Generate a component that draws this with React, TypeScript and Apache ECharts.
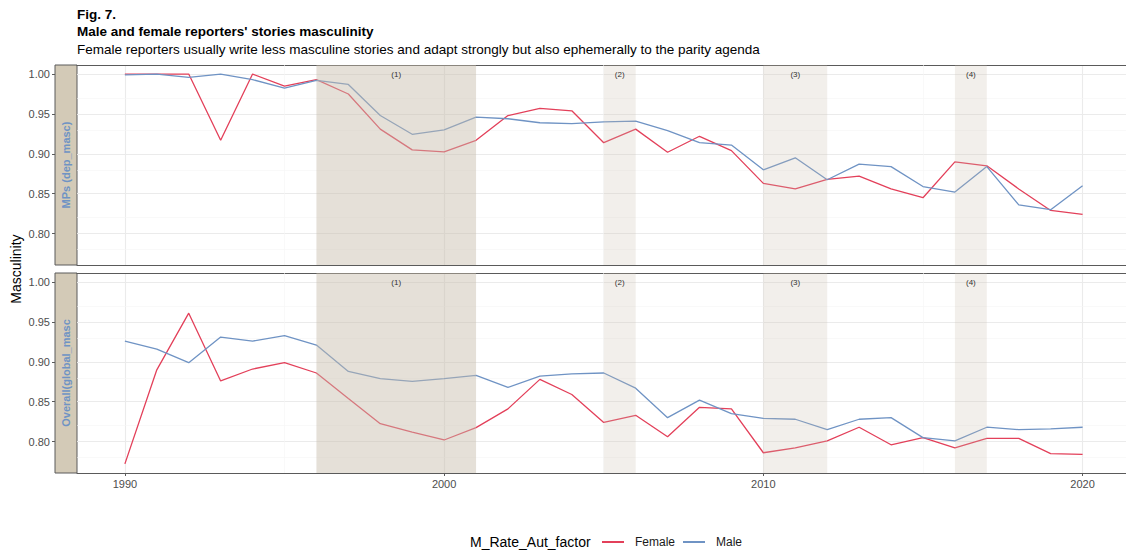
import React, { useEffect, useRef } from "react";
import * as echarts from "echarts";

const YEARS = [
  1990, 1991, 1992, 1993, 1994, 1995, 1996, 1997, 1998, 1999, 2000, 2001, 2002, 2003, 2004, 2005,
  2006, 2007, 2008, 2009, 2010, 2011, 2012, 2013, 2014, 2015, 2016, 2017, 2018, 2019, 2020,
];

const MPS_FEMALE = [
  1.0, 1.0, 1.0, 0.917, 1.0, 0.985, 0.993, 0.975, 0.931, 0.905, 0.9025, 0.917, 0.948, 0.957,
  0.954, 0.914, 0.931, 0.902, 0.922, 0.904, 0.863, 0.856, 0.868, 0.872, 0.856, 0.845, 0.89, 0.885,
  0.856, 0.829, 0.824,
];
const MPS_MALE = [
  0.999, 1.0, 0.996, 1.0, 0.993, 0.9825, 0.992, 0.987, 0.948, 0.9245, 0.93, 0.946, 0.944, 0.939,
  0.938, 0.94, 0.941, 0.929, 0.914, 0.911, 0.88, 0.895, 0.8675, 0.887, 0.884, 0.859, 0.852, 0.884,
  0.836, 0.83, 0.86,
];
const OVERALL_FEMALE = [
  0.772, 0.89, 0.961, 0.876, 0.891, 0.899, 0.886, 0.854, 0.8225, 0.812, 0.802, 0.8175, 0.841, 0.878,
  0.859, 0.824, 0.833, 0.806, 0.843, 0.841, 0.786, 0.792, 0.801, 0.818, 0.796, 0.805, 0.792, 0.804,
  0.804, 0.785, 0.784,
];
const OVERALL_MALE = [
  0.926, 0.916, 0.899, 0.931, 0.926, 0.933, 0.921, 0.888, 0.879, 0.8755, 0.879, 0.883, 0.868, 0.882,
  0.885, 0.886, 0.867, 0.83, 0.852, 0.835, 0.829, 0.828, 0.815, 0.828, 0.83, 0.805, 0.801, 0.818,
  0.815, 0.816, 0.818,
];

const Y_TICKS = [0.8, 0.85, 0.9, 0.95, 1.0];
const Y_MINOR = [0.775, 0.825, 0.875, 0.925, 0.975];
const X_TICKS = [1990, 2000, 2010, 2020];
const X_MINOR = [1995, 2005, 2015];

const PERIOD_LABELS = ["(1)", "(2)", "(3)", "(4)"];
const PERIOD_START = [1996, 2005, 2010, 2016];
const PERIOD_END = [2001, 2006, 2012, 2017];

const STRIP_LABELS = ["MPs (dep_masc)", "Overall(global_masc"];

const Y_MIN = 0.7606;
const Y_MAX = 1.0114;
// the panel runs past the right edge of the picture; this is the visible part
const X_MIN = 1988.5;
const X_MAX = 2021.36;

const FONT = "'Liberation Sans', Arial, Helvetica, sans-serif";
const RED = "#e3405a";
const BLUE = "#6f93c4";
const FRAME = "#5a5a5a";

export default function App() {
  const ref = useRef<HTMLDivElement>(null);

  useEffect(() => {
    if (!ref.current) return;
    const chart = echarts.init(ref.current, null, { renderer: "svg" });

    const panels = [
      { female: MPS_FEMALE, male: MPS_MALE, top: 65 },
      { female: OVERALL_FEMALE, male: OVERALL_MALE, top: 273 },
    ];
    const PANEL_H = 200;

    const grid: any[] = [];
    const xAxis: any[] = [];
    const yAxis: any[] = [];
    const series: any[] = [];

    panels.forEach((p) => {
      grid.push({
        left: 77,
        top: p.top,
        width: 1049,
        height: PANEL_H,
        show: true,
        backgroundColor: "#ffffff",
        borderWidth: 0,
      });
    });
    panels.forEach((p) => {
      grid.push({
        left: 55,
        top: p.top,
        width: 22,
        height: PANEL_H,
        show: true,
        backgroundColor: "#d3cab7",
        borderColor: FRAME,
        borderWidth: 1,
      });
    });

    panels.forEach((p, i) => {
      const isBottom = i === panels.length - 1;
      xAxis.push({
        type: "value",
        gridIndex: i,
        position: "bottom",
        min: X_MIN,
        max: X_MAX,
        splitNumber: 3,
        axisLine: { show: true, onZero: false, lineStyle: { color: FRAME, width: 1 } },
        axisTick: {
          show: isBottom,
          customValues: X_TICKS,
          length: 3,
          lineStyle: { color: FRAME },
        },
        axisLabel: {
          show: isBottom,
          customValues: X_TICKS,
          formatter: (v: number) => (X_TICKS.some((t) => Math.abs(t - v) < 1e-6) ? String(v) : ""),
          color: "#4d4d4d",
          fontSize: 11,
          fontFamily: FONT,
          margin: 5,
        },
        splitLine: { show: true, lineStyle: { color: "#ebebeb", width: 1.1 } },
      });
      yAxis.push({
        type: "value",
        gridIndex: i,
        min: Y_MIN,
        max: Y_MAX,
        splitNumber: 5,
        axisLine: { show: false },
        axisTick: { show: false },
        axisLabel: { show: false },
        splitLine: { show: true, lineStyle: { color: "#ebebeb", width: 1.1 } },
      });
    });
    panels.forEach((p, i) => {
      xAxis.push({ type: "value", gridIndex: i + 2, min: 0, max: 1, show: false });
      yAxis.push({
        type: "value",
        gridIndex: i + 2,
        min: Y_MIN,
        max: Y_MAX,
        splitNumber: 5,
        axisLine: { show: false },
        axisTick: {
          show: true,
          customValues: Y_TICKS,
          length: 3,
          lineStyle: { color: FRAME },
        },
        axisLabel: {
          customValues: Y_TICKS,
          formatter: (v: number) =>
            Y_TICKS.some((t) => Math.abs(t - v) < 1e-6) ? v.toFixed(2) : "",
          color: "#4d4d4d",
          fontSize: 11,
          fontFamily: FONT,
          margin: 5,
        },
        splitLine: { show: false },
      });
    });
    // top edge of each panel frame
    panels.forEach((p, i) => {
      xAxis.push({
        type: "value",
        gridIndex: i,
        position: "top",
        min: X_MIN,
        max: X_MAX,
        splitNumber: 3,
        axisLine: { show: true, onZero: false, lineStyle: { color: FRAME, width: 1 } },
        axisTick: { show: false },
        axisLabel: { show: false },
        splitLine: { show: false },
      });
    });

    panels.forEach((p, i) => {
      series.push({
        type: "line",
        name: "minor" + i,
        xAxisIndex: i,
        yAxisIndex: i,
        data: [],
        z: 1,
        silent: true,
        markLine: {
          silent: true,
          z: 1,
          symbol: ["none", "none"],
          label: { show: false },
          lineStyle: { color: "#f5f5f5", width: 0.6, type: "solid" },
          data: [
            ...Y_MINOR.map((v) => ({ yAxis: v })),
            ...X_MINOR.map((v) => ({ xAxis: v })),
          ],
        },
      });
      series.push({
        type: "line",
        name: "Female",
        xAxisIndex: i,
        yAxisIndex: i,
        data: YEARS.map((y, k) => [y, p.female[k]]),
        showSymbol: false,
        symbol: "none",
        color: RED,
        lineStyle: { color: RED, width: 1.3 },
        z: 3,
      });
      series.push({
        type: "line",
        name: "Male",
        xAxisIndex: i,
        yAxisIndex: i,
        data: YEARS.map((y, k) => [y, p.male[k]]),
        showSymbol: false,
        symbol: "none",
        color: BLUE,
        lineStyle: { color: BLUE, width: 1.3 },
        z: 3,
      });
      series.push({
        type: "line",
        name: "periods" + i,
        xAxisIndex: i,
        yAxisIndex: i,
        data: [],
        z: 10,
        silent: true,
        markArea: {
          silent: true,
          z: 10,
          label: {
            show: true,
            position: "insideTop",
            distance: 5,
            fontSize: 8,
            color: "#333333",
            fontFamily: FONT,
          },
          data: PERIOD_LABELS.map((lab, k) => [
            {
              name: lab,
              xAxis: PERIOD_START[k],
              itemStyle: {
                color: k === 0 ? "rgba(199,188,170,0.46)" : "rgba(199,188,170,0.24)",
              },
            },
            { xAxis: PERIOD_END[k] },
          ]),
        },
      });
    });

    const graphic: any[] = [
      {
        type: "text",
        left: 77,
        top: 7,
        style: { text: "Fig. 7.", font: `bold 13.5px ${FONT}`, fill: "#000000" },
      },
      {
        type: "text",
        left: 77,
        top: 24,
        style: {
          text: "Male and female reporters' stories masculinity",
          font: `bold 13.5px ${FONT}`,
          fill: "#000000",
        },
      },
      {
        type: "text",
        left: 77,
        top: 42,
        style: {
          text: "Female reporters usually write less masculine stories and adapt strongly but also ephemerally to the parity agenda",
          font: `13.5px ${FONT}`,
          fill: "#000000",
        },
      },
      {
        type: "text",
        x: 16,
        y: 269,
        rotation: Math.PI / 2,
        style: {
          text: "Masculinity",
          font: `14px ${FONT}`,
          fill: "#000000",
          align: "center",
          verticalAlign: "middle",
        },
      },
      {
        type: "text",
        x: 470,
        y: 542,
        style: {
          text: "M_Rate_Aut_factor",
          font: `14px ${FONT}`,
          fill: "#000000",
          align: "left",
          verticalAlign: "middle",
        },
      },
    ];
    panels.forEach((p, i) => {
      graphic.push({
        type: "text",
        x: 66,
        y: p.top + PANEL_H / 2,
        rotation: Math.PI / 2,
        z: 20,
        style: {
          text: STRIP_LABELS[i],
          font: `bold 11px ${FONT}`,
          fill: BLUE,
          align: "center",
          verticalAlign: "middle",
        },
      });
    });

    chart.setOption({
      animation: false,
      backgroundColor: "#ffffff",
      grid,
      xAxis,
      yAxis,
      series,
      graphic,
      legend: {
        data: ["Female", "Male"],
        left: 602,
        top: 536,
        padding: 0,
        icon: "rect",
        itemWidth: 22,
        itemHeight: 2,
        itemGap: 8,
        selectedMode: false,
        textStyle: {
          fontSize: 12,
          color: "#1a1a1a",
          fontFamily: FONT,
          padding: [0, 0, 0, 6],
        },
      },
    });

    return () => chart.dispose();
  }, []);

  return (
    <div
      ref={ref}
      style={{ position: "fixed", left: 0, top: 0, width: 1126, height: 552, background: "#fff" }}
    />
  );
}
